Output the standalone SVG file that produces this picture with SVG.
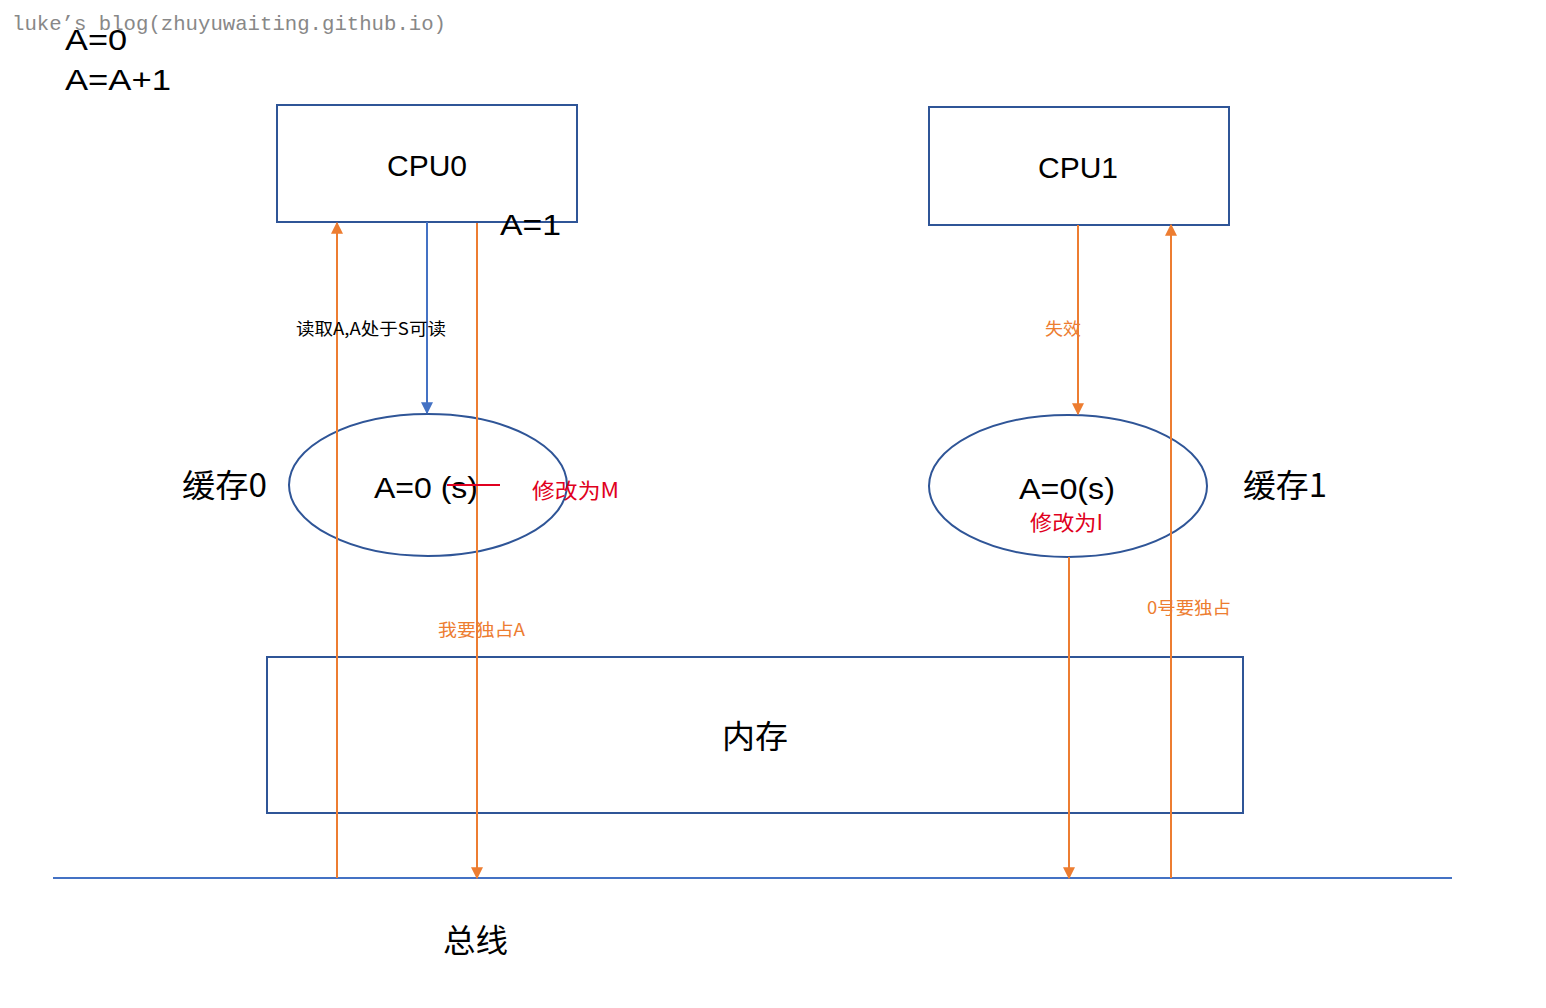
<svg xmlns="http://www.w3.org/2000/svg" width="1546" height="1008" viewBox="0 0 1546 1008">
<style>
.box{fill:#fff;stroke:#2F5597;stroke-width:2}
.ell{fill:none;stroke:#2F5597;stroke-width:2}
.t{font-family:"Liberation Sans","Noto Sans CJK SC",sans-serif;fill:#000}
.cjk{font-family:"Noto Sans CJK SC","Liberation Sans",sans-serif}
.or{stroke:#ED7D31;stroke-width:2;fill:none}
.bl{stroke:#4472C4;stroke-width:2;fill:none}
.lo{fill:#ED7D31;font-size:17px}
.red{fill:#E00020;font-size:21px}
</style>
<defs>
<marker id="ao" viewBox="0 0 10 10" refX="9" refY="5" markerWidth="6" markerHeight="6" orient="auto"><path d="M0,0L10,5L0,10z" fill="#ED7D31"/></marker>
<marker id="ab" viewBox="0 0 10 10" refX="9" refY="5" markerWidth="6" markerHeight="6" orient="auto"><path d="M0,0L10,5L0,10z" fill="#4472C4"/></marker>
</defs>
<rect width="1546" height="1008" fill="#fff"/>
<g id="cpu0"><rect class="box" x="277" y="105" width="300" height="117"/><text class="t" x="387" y="176" font-size="30" textLength="80" lengthAdjust="spacingAndGlyphs">CPU0</text></g>
<g id="cpu1"><rect class="box" x="929" y="107" width="300" height="118"/><text class="t" x="1038" y="178" font-size="30" textLength="80" lengthAdjust="spacingAndGlyphs">CPU1</text></g>
<g id="memory"><rect class="box" x="267" y="657" width="976" height="156"/><text class="t cjk" x="722" y="748" font-size="32" textLength="66" lengthAdjust="spacingAndGlyphs">内存</text></g>
<g id="cache0"><ellipse class="ell" cx="428" cy="485" rx="139" ry="71"/><text class="t" x="374" y="498" font-size="30" textLength="104" lengthAdjust="spacingAndGlyphs">A=0 (s)</text></g>
<g id="cache1"><ellipse class="ell" cx="1068" cy="486" rx="139" ry="71"/><text class="t" x="1019" y="499" font-size="30" textLength="96" lengthAdjust="spacingAndGlyphs">A=0(s)</text><text class="cjk red" x="1030" y="530" textLength="73" lengthAdjust="spacingAndGlyphs">修改为I</text></g>
<g id="connectors">
<line x1="53" y1="878" x2="1452" y2="878" class="bl"/>
<line x1="427" y1="222" x2="427" y2="413" class="bl" marker-end="url(#ab)"/>
<line x1="337" y1="878" x2="337" y2="223" class="or" marker-end="url(#ao)"/>
<line x1="477" y1="223" x2="477" y2="878" class="or" marker-end="url(#ao)"/>
<line x1="1078" y1="225" x2="1078" y2="414" class="or" marker-end="url(#ao)"/>
<line x1="1069" y1="557" x2="1069" y2="878" class="or" marker-end="url(#ao)"/>
<line x1="1171" y1="878" x2="1171" y2="225" class="or" marker-end="url(#ao)"/>
<line x1="447" y1="485" x2="500" y2="485" stroke="#E00020" stroke-width="2"/>
</g>
<text x="12" y="30" font-family="Liberation Mono,monospace" font-size="21" fill="#888" textLength="434" lengthAdjust="spacingAndGlyphs">luke’s blog(zhuyuwaiting.github.io)</text>
<text class="t" x="65" y="50" font-size="30" textLength="62" lengthAdjust="spacingAndGlyphs">A=0</text>
<text class="t" x="65" y="90" font-size="30" textLength="106" lengthAdjust="spacingAndGlyphs">A=A+1</text>
<text class="t" x="500" y="235" font-size="30" textLength="61" lengthAdjust="spacingAndGlyphs">A=1</text>
<text class="t cjk" x="296" y="335" font-size="17" textLength="150" lengthAdjust="spacingAndGlyphs">读取A,A处于S可读</text>
<text class="cjk red" x="532" y="498" textLength="87" lengthAdjust="spacingAndGlyphs">修改为M</text>
<text class="t cjk" x="182" y="497" font-size="32" textLength="85" lengthAdjust="spacingAndGlyphs">缓存0</text>
<text class="t cjk" x="1243" y="497" font-size="32" textLength="84" lengthAdjust="spacingAndGlyphs">缓存1</text>
<text class="cjk lo" x="1045" y="335" textLength="36" lengthAdjust="spacingAndGlyphs">失效</text>
<text class="cjk lo" x="438" y="636" textLength="87" lengthAdjust="spacingAndGlyphs">我要独占A</text>
<text class="cjk lo" x="1147" y="614" textLength="84" lengthAdjust="spacingAndGlyphs">0号要独占</text>
<text class="t cjk" x="443" y="952" font-size="32" textLength="65" lengthAdjust="spacingAndGlyphs">总线</text>
</svg>
